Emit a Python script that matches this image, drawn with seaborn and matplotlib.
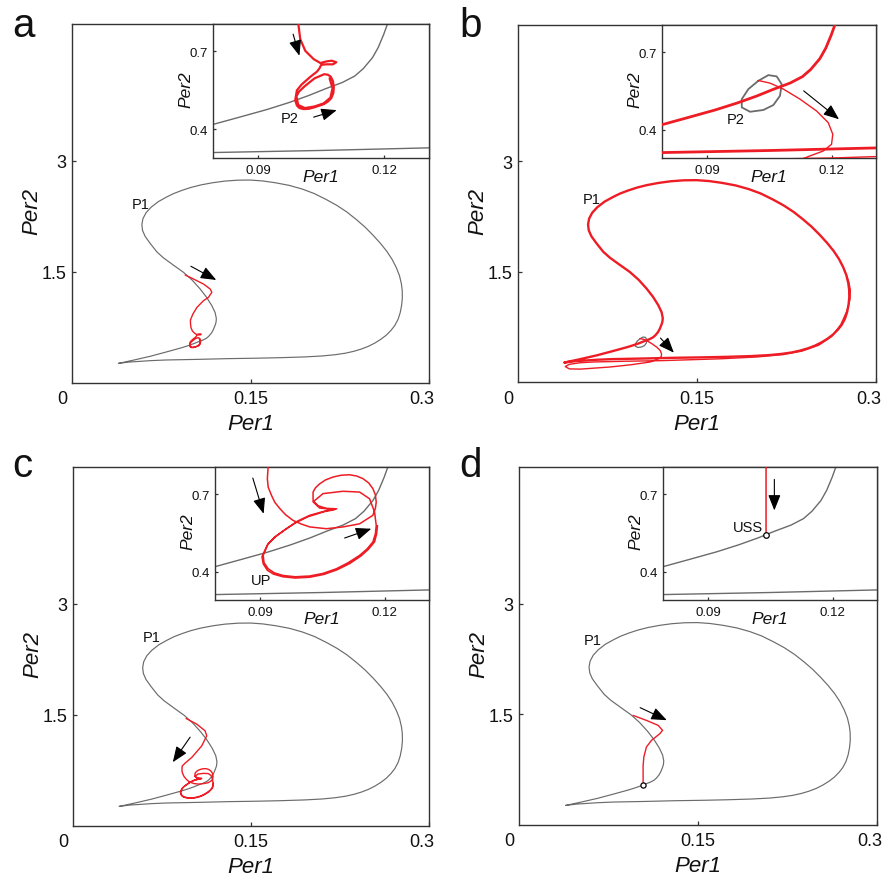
import numpy as np
import matplotlib
matplotlib.use("Agg")
import matplotlib.pyplot as plt
import seaborn as sns

# ---------------- data ----------------
# limit cycle P1 (Per1, Per2)
p1_per1 = [0.039, 0.048, 0.066, 0.0792, 0.105, 0.1307, 0.155, 0.175, 0.195, 0.210,
           0.221, 0.2295, 0.2365, 0.243, 0.249, 0.2545, 0.2595, 0.264, 0.268, 0.2712,
           0.274, 0.2758, 0.277, 0.2776, 0.2775, 0.2768, 0.2752, 0.2725, 0.269, 0.2645,
           0.259, 0.2528, 0.246, 0.2388, 0.231, 0.2225, 0.2135, 0.2035, 0.1935, 0.1825,
           0.171, 0.160, 0.1497, 0.139, 0.128, 0.118, 0.108, 0.0995, 0.092, 0.0855,
           0.0798, 0.0725, 0.0665, 0.0622, 0.0596, 0.0587, 0.0593, 0.0615, 0.0655, 0.0714,
           0.0769, 0.085, 0.0937, 0.101, 0.1077, 0.113, 0.1175, 0.1203, 0.1213, 0.1211,
           0.1208, 0.1199, 0.1186, 0.1172, 0.1150, 0.1130, 0.1100, 0.1060, 0.1020, 0.0973,
           0.0920, 0.0853, 0.0792, 0.066, 0.052, 0.039]
p1_per2 = [0.265, 0.283, 0.302, 0.311, 0.319, 0.329, 0.335, 0.342, 0.352, 0.365,
           0.382, 0.402, 0.427, 0.458, 0.495, 0.54, 0.59, 0.645, 0.71, 0.775,
           0.86, 0.95, 1.05, 1.15, 1.25, 1.34, 1.45, 1.56, 1.67, 1.78,
           1.89, 2.0, 2.11, 2.21, 2.31, 2.40, 2.48, 2.56, 2.62, 2.67,
           2.705, 2.73, 2.742, 2.74, 2.727, 2.705, 2.675, 2.64, 2.60, 2.56,
           2.515, 2.45, 2.375, 2.30, 2.22, 2.14, 2.06, 1.98, 1.89, 1.77,
           1.69, 1.595, 1.495, 1.39, 1.27, 1.16, 1.045, 0.95, 0.87, 0.83,
           0.805, 0.765, 0.715, 0.675, 0.633, 0.605, 0.580, 0.556, 0.530, 0.503,
           0.476, 0.446, 0.419, 0.362, 0.31, 0.265]

# small unstable cycle P2 (panel b)
p2_per1 = [0.1024, 0.1048, 0.1068, 0.1080, 0.1076, 0.1060, 0.1036, 0.1004, 0.0984, 0.0984, 0.1000, 0.1024]
p2_per2 = [0.589, 0.611, 0.606, 0.576, 0.531, 0.495, 0.476, 0.469, 0.486, 0.518, 0.557, 0.589]

# unstable steady state (panel d)
uss_per1 = [0.104]
uss_per2 = [0.543]

# red trajectories
a_red_per1 = [0.0951, 0.1021, 0.1105, 0.1161, 0.1175, 0.1147, 0.1105, 0.105, 0.1016, 0.0995,
              0.0996, 0.1000, 0.1012, 0.1032, 0.1048, 0.1062, 0.1075, 0.1086, 0.1078, 0.1062,
              0.1050, 0.1046, 0.1040, 0.1024, 0.1003, 0.0992, 0.0988, 0.0992, 0.0998, 0.1008,
              0.1020, 0.1032, 0.1056, 0.1066, 0.1074, 0.1079, 0.1080, 0.1078, 0.1073, 0.1066,
              0.1057, 0.1034, 0.1010, 0.0997, 0.0991, 0.0995, 0.1011, 0.1034, 0.1056, 0.1072,
              0.1077, 0.1070]
a_red_per2 = [1.459, 1.405, 1.337, 1.27, 1.225, 1.158, 1.112, 1.022, 0.932, 0.85,
              0.798, 0.747, 0.702, 0.670, 0.655, 0.661, 0.664, 0.658, 0.650, 0.650,
              0.648, 0.635, 0.622, 0.602, 0.572, 0.550, 0.512, 0.492, 0.482, 0.478,
              0.479, 0.484, 0.497, 0.507, 0.520, 0.540, 0.562, 0.585, 0.602, 0.610,
              0.612, 0.596, 0.565, 0.545, 0.527, 0.494, 0.482, 0.488, 0.500, 0.522,
              0.558, 0.596]

b_red_per1 = [0.1024, 0.1052, 0.1084, 0.1124, 0.1164, 0.1192, 0.1203, 0.1200, 0.1180, 0.1148,
              0.1108, 0.095, 0.0773, 0.0522, 0.043, 0.0396, 0.043, 0.0522, 0.0633, 0.090,
              0.120, 0.1694, 0.200, 0.222, 0.238, 0.252, 0.263, 0.2705, 0.2755, 0.2782,
              0.2785, 0.2772, 0.2752]
b_red_per2 = [0.590, 0.580, 0.557, 0.518, 0.472, 0.427, 0.382, 0.343, 0.317, 0.298,
              0.272, 0.235, 0.204, 0.175, 0.178, 0.21, 0.24, 0.262, 0.272, 0.282,
              0.290, 0.315, 0.34, 0.372, 0.42, 0.50, 0.62, 0.78, 0.96, 1.12,
              1.25, 1.36, 1.45]

c_red_per1 = [0.0953, 0.1043, 0.1113, 0.1127, 0.1085, 0.1001, 0.0945, 0.0920, 0.0918, 0.0920,
              0.0928, 0.0936, 0.0948, 0.0962, 0.0980, 0.1000, 0.1020, 0.1060, 0.1100, 0.1140,
              0.1172, 0.1178, 0.1180, 0.1178, 0.1172, 0.1162, 0.1148, 0.1133, 0.1116, 0.1095,
              0.1076, 0.1058, 0.1044, 0.1034, 0.1028, 0.1028, 0.1040, 0.1060, 0.1085, 0.1060,
              0.1020, 0.0990, 0.0964, 0.0940, 0.0920, 0.0908, 0.0910, 0.0920, 0.0935, 0.0956,
              0.0985, 0.1020, 0.1052, 0.1084, 0.1113, 0.1140, 0.1158, 0.1172, 0.1178, 0.1180,
              0.1176, 0.1164, 0.1140, 0.1100, 0.1052, 0.1028, 0.1044, 0.1080, 0.1055, 0.1015,
              0.0985, 0.0960, 0.0935, 0.0918, 0.0905, 0.0908, 0.0918, 0.0933, 0.0955, 0.0985,
              0.1020, 0.1054, 0.1086, 0.1116, 0.1143, 0.1161, 0.1176, 0.1181, 0.1183]
c_red_per2 = [1.453, 1.376, 1.286, 1.218, 1.083, 0.926, 0.85, 0.809, 0.760, 0.727,
              0.695, 0.668, 0.644, 0.620, 0.598, 0.584, 0.573, 0.566, 0.573, 0.585,
              0.618, 0.645, 0.669, 0.697, 0.721, 0.743, 0.760, 0.770, 0.775, 0.773,
              0.766, 0.755, 0.740, 0.725, 0.708, 0.675, 0.655, 0.645, 0.643, 0.636,
              0.618, 0.595, 0.566, 0.538, 0.508, 0.463, 0.435, 0.411, 0.395, 0.385,
              0.380, 0.383, 0.393, 0.411, 0.435, 0.463, 0.488, 0.515, 0.547, 0.579,
              0.631, 0.682, 0.708, 0.711, 0.702, 0.670, 0.646, 0.640, 0.632, 0.612,
              0.588, 0.562, 0.533, 0.503, 0.458, 0.430, 0.405, 0.390, 0.380, 0.375,
              0.378, 0.389, 0.407, 0.431, 0.460, 0.486, 0.515, 0.546, 0.578]

d_red_per1 = [0.0956, 0.1068, 0.1166, 0.1203, 0.1180, 0.1110, 0.1068, 0.1046, 0.1040, 0.1040, 0.1040]
d_red_per2 = [1.485, 1.417, 1.35, 1.282, 1.237, 1.146, 1.057, 0.921, 0.80, 0.70, 0.543]

# tick labels
main_xticks = [0.15, 0.3]
main_xticklabels = ["0", "0.15", "0.3"]
main_yticks = [1.5, 3]
main_yticklabels = ["1.5", "3"]
inset_xticks = [0.09, 0.12]
inset_xticklabels = ["0.09", "0.12"]
inset_yticks = [0.4, 0.7]
inset_yticklabels = ["0.4", "0.7"]

# ---------------- style ----------------
sns.set_theme(style="white")
plt.rcParams["font.family"] = ["Liberation Sans", "DejaVu Sans"]

GRAY = "#6b6b6b"
RED = "#ee1c24"
SPINE = "#333333"
TXT = "#111111"

W, H = 882, 878
fig = plt.figure(figsize=(W / 100, H / 100), dpi=100)
fig.patch.set_facecolor("white")


def box(l, t, r, b):
    return [l / W, 1 - b / H, (r - l) / W, (b - t) / H]


def curve(ax, xs, ys, color, lw, z=2):
    sns.lineplot(x=np.asarray(xs), y=np.asarray(ys), sort=False, estimator=None,
                 color=color, linewidth=lw, ax=ax, zorder=z)


def arrow(ax, tail, head):
    ax.annotate("", xy=head, xytext=tail,
                arrowprops=dict(arrowstyle="-|>,head_length=0.95,head_width=0.38",
                                color="black", lw=0.8, shrinkA=0, shrinkB=0,
                                mutation_scale=10), zorder=6)


def style(ax, fs, xpad, ypad, length):
    for s in ax.spines.values():
        s.set_visible(True)
        s.set_color(SPINE)
        s.set_linewidth(1.0)
    ax.tick_params(direction="in", length=length, width=0.9, color=SPINE,
                   labelcolor=TXT, labelsize=fs,
                   bottom=True, left=True, top=False, right=False)
    ax.tick_params(axis="x", pad=xpad)
    ax.tick_params(axis="y", pad=ypad)
    ax.set_xlabel("")
    ax.set_ylabel("")
    ax.set_facecolor("white")


panels = {
    "a": dict(main=(72, 25, 429, 384), inset=(213, 25, 429, 159), letter=(12, 37)),
    "b": dict(main=(518, 26, 876, 383), inset=(662, 26, 876, 159), letter=(459, 37)),
    "c": dict(main=(73, 468, 429, 827), inset=(215, 468, 429, 601), letter=(12, 477)),
    "d": dict(main=(519, 468, 877, 826), inset=(663, 468, 877, 601), letter=(459, 477)),
}

for key, cfg in panels.items():
    l, t, r, b = cfg["main"]
    ax = fig.add_axes(box(l, t, r, b))
    il, it, ir, ib = cfg["inset"]
    axi = fig.add_axes(box(il, it, ir, ib))
    mh = b - t
    mw = r - l
    ih = ib - it
    iw = ir - il

    for A, inset in ((ax, False), (axi, True)):
        lw_g = 1.0 if inset else 0.85
        if key == "b":
            curve(A, b_red_per1, b_red_per2, RED, 1.0, 3)
            curve(A, p1_per1, p1_per2, RED, 2.0 if inset else 1.7, 3)
            curve(A, p2_per1, p2_per2, GRAY, 1.3 if inset else 0.9, 2)
        else:
            curve(A, p1_per1, p1_per2, GRAY, lw_g, 2)
            if key == "a":
                curve(A, a_red_per1, a_red_per2, RED, 1.6 if inset else 1.0, 3)
            elif key == "c":
                curve(A, c_red_per1, c_red_per2, RED, 1.1 if inset else 1.0, 3)
            else:
                curve(A, d_red_per1, d_red_per2, RED, 1.1 if inset else 1.0, 3)
                sns.scatterplot(x=uss_per1, y=uss_per2, ax=A, marker="o", s=14 if not inset else 16,
                                facecolor="white", edgecolor="black", linewidth=0.9, zorder=5)

    # main axes
    ax.set_xlim(0, 0.3)
    ax.set_ylim(0, 4.85)
    ax.set_xticks(main_xticks)
    ax.set_xticklabels([""] * len(main_xticks))
    ax.set_yticks(main_yticks)
    ax.set_yticklabels(main_yticklabels)
    style(ax, 13, 8, 4, 3)
    # x tick labels placed as text so that they match the reference offsets
    for lab, xoff, xpos in zip(main_xticklabels, (-10, 0, -7), (0.0, 0.5, 1.0)):
        ax.text(xpos + xoff / mw, -16 / mh, lab, transform=ax.transAxes, ha="center",
                va="center", fontsize=13, color=TXT)
    ax.text(0.5, -41 / mh, "Per1", transform=ax.transAxes, ha="center", va="center",
            fontsize=16, fontstyle="italic", color=TXT)
    ax.text(-40 / mw, 0.48, "Per2", transform=ax.transAxes, ha="center", va="center",
            fontsize=16, fontstyle="italic", rotation=90, color=TXT)

    # inset axes
    axi.set_xlim(0.0792, 0.1307)
    axi.set_ylim(0.29, 0.805)
    axi.set_xticks(inset_xticks)
    axi.set_xticklabels(inset_xticklabels)
    axi.set_yticks(inset_yticks)
    axi.set_yticklabels(inset_yticklabels)
    style(axi, 9.5, 4, 4, 2.5)
    axi.text(0.5, -18 / ih, "Per1", transform=axi.transAxes, ha="center", va="center",
             fontsize=12.5, fontstyle="italic", color=TXT)
    axi.text(-27 / iw, 0.52, "Per2", transform=axi.transAxes, ha="center", va="center",
             fontsize=12.5, fontstyle="italic", rotation=90, color=TXT)

    # panel letter
    fig.text(cfg["letter"][0] / W, 1 - cfg["letter"][1] / H, key, ha="left", va="baseline",
             fontsize=29, color=TXT)

# annotations, arrows
A = fig.axes
ax_a, axi_a, ax_b, axi_b, ax_c, axi_c, ax_d, axi_d = A

ax_a.text(0.0574, 2.418, "P1", ha="center", va="center", fontsize=10.5, color=TXT)
ax_b.text(0.062, 2.49, "P1", ha="center", va="center", fontsize=10.5, color=TXT)
ax_c.text(0.0665, 2.55, "P1", ha="center", va="center", fontsize=10.5, color=TXT)
ax_d.text(0.0616, 2.51, "P1", ha="center", va="center", fontsize=10.5, color=TXT)
axi_a.text(0.0976, 0.445, "P2", ha="center", va="center", fontsize=10.5, color=TXT)
axi_b.text(0.0970, 0.44, "P2", ha="center", va="center", fontsize=10.5, color=TXT)
axi_c.text(0.0904, 0.366, "UP", ha="center", va="center", fontsize=10.5, color=TXT)
axi_d.text(0.1033, 0.573, "USS", ha="right", va="center", fontsize=10.5, color=TXT)

arrow(ax_a, (0.0999, 1.577), (0.1212, 1.392))
arrow(axi_a, (0.0983, 0.766), (0.0998, 0.683))
arrow(axi_a, (0.1032, 0.447), (0.1087, 0.474))
arrow(ax_b, (0.1194, 0.597), (0.1306, 0.398))
arrow(axi_b, (0.1133, 0.55), (0.1218, 0.44))
arrow(ax_c, (0.0987, 1.20), (0.0841, 0.862))
arrow(axi_c, (0.0883, 0.762), (0.0909, 0.624))
arrow(axi_c, (0.1104, 0.53), (0.1168, 0.566))
arrow(ax_d, (0.1015, 1.59), (0.1239, 1.42))
arrow(axi_d, (0.1060, 0.757), (0.1060, 0.637))

fig.savefig("out.png", dpi=100, facecolor="white")
